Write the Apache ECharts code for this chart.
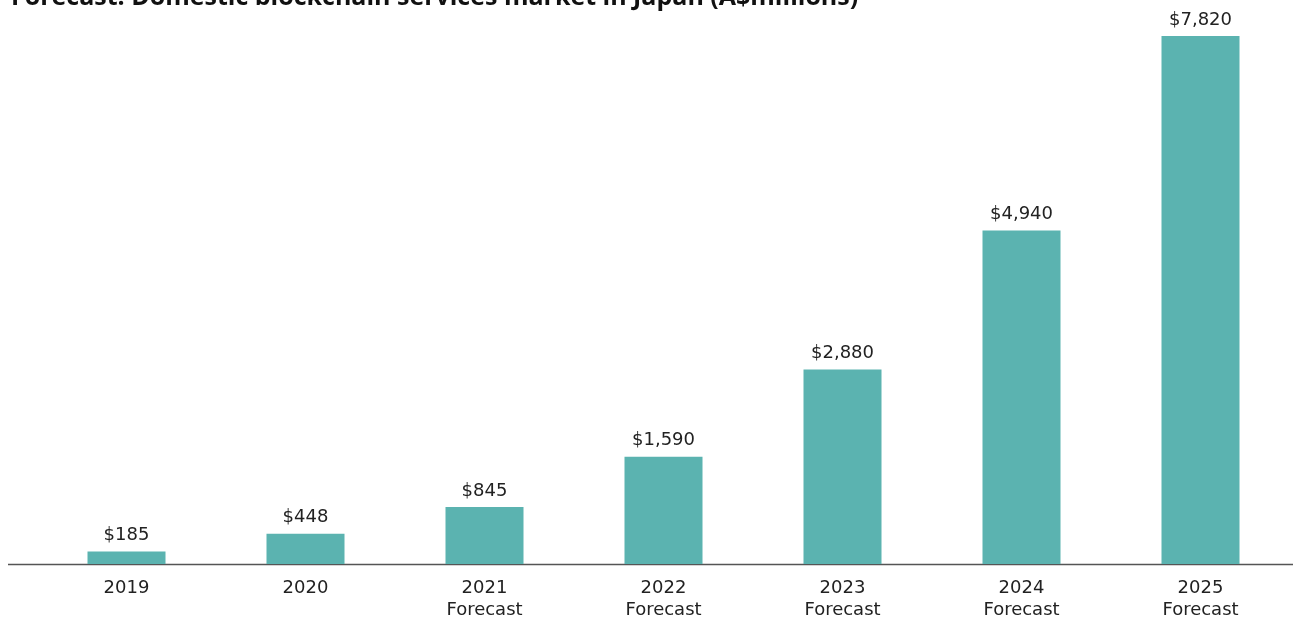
<!DOCTYPE html>
<html>
<head>
<meta charset="utf-8">
<script src="https://cdn.jsdelivr.net/npm/echarts@6/dist/echarts.min.js"></script>
<style>
  html, body { margin: 0; padding: 0; background: #fff; }
  #chart { width: 1293px; height: 621px; }
</style>
</head>
<body>
<div id="chart"></div>
<script>
// Domestic blockchain services market in Japan, A$ millions
const categories = ['2019', '2020', '2021\nForecast', '2022\nForecast', '2023\nForecast', '2024\nForecast', '2025\nForecast'];
const marketValues = [185, 448, 845, 1590, 2880, 4940, 7820];
const titleText = 'Forecast: Domestic blockchain services market in Japan (A$millions)';

const chart = echarts.init(document.getElementById('chart'));
const bodyFont = 'DejaVu Sans, sans-serif';

chart.setOption({
  animation: false,
  title: {
    text: titleText,
    left: 6,
    top: -20,
    textStyle: { fontFamily: 'Open Sans, sans-serif', fontSize: 25, fontWeight: 'bold', color: '#111' }
  },
  grid: { left: 37, right: 3, top: 36, bottom: 57 },
  xAxis: {
    type: 'category',
    data: categories,
    axisLine: { show: false },
    axisTick: { show: false },
    axisLabel: {
      color: '#222',
      fontFamily: bodyFont,
      fontSize: 18,
      lineHeight: 22,
      margin: 13
    }
  },
  yAxis: {
    type: 'value',
    min: 0,
    max: 7820,
    show: false,
    splitLine: { show: false }
  },
  series: [{
    type: 'bar',
    data: marketValues,
    barWidth: 78,
    itemStyle: { color: '#5bb3b0' },
    label: {
      show: true,
      position: 'top',
      distance: 7,
      color: '#222',
      fontFamily: bodyFont,
      fontSize: 18,
      formatter: p => '$' + p.value.toLocaleString('en-US')
    }
  }],
  graphic: [{
    type: 'line',
    shape: { x1: 8, y1: 564.5, x2: 1293, y2: 564.5 },
    style: { stroke: '#555', lineWidth: 1.5 }
  }]
});
</script>
</body>
</html>
